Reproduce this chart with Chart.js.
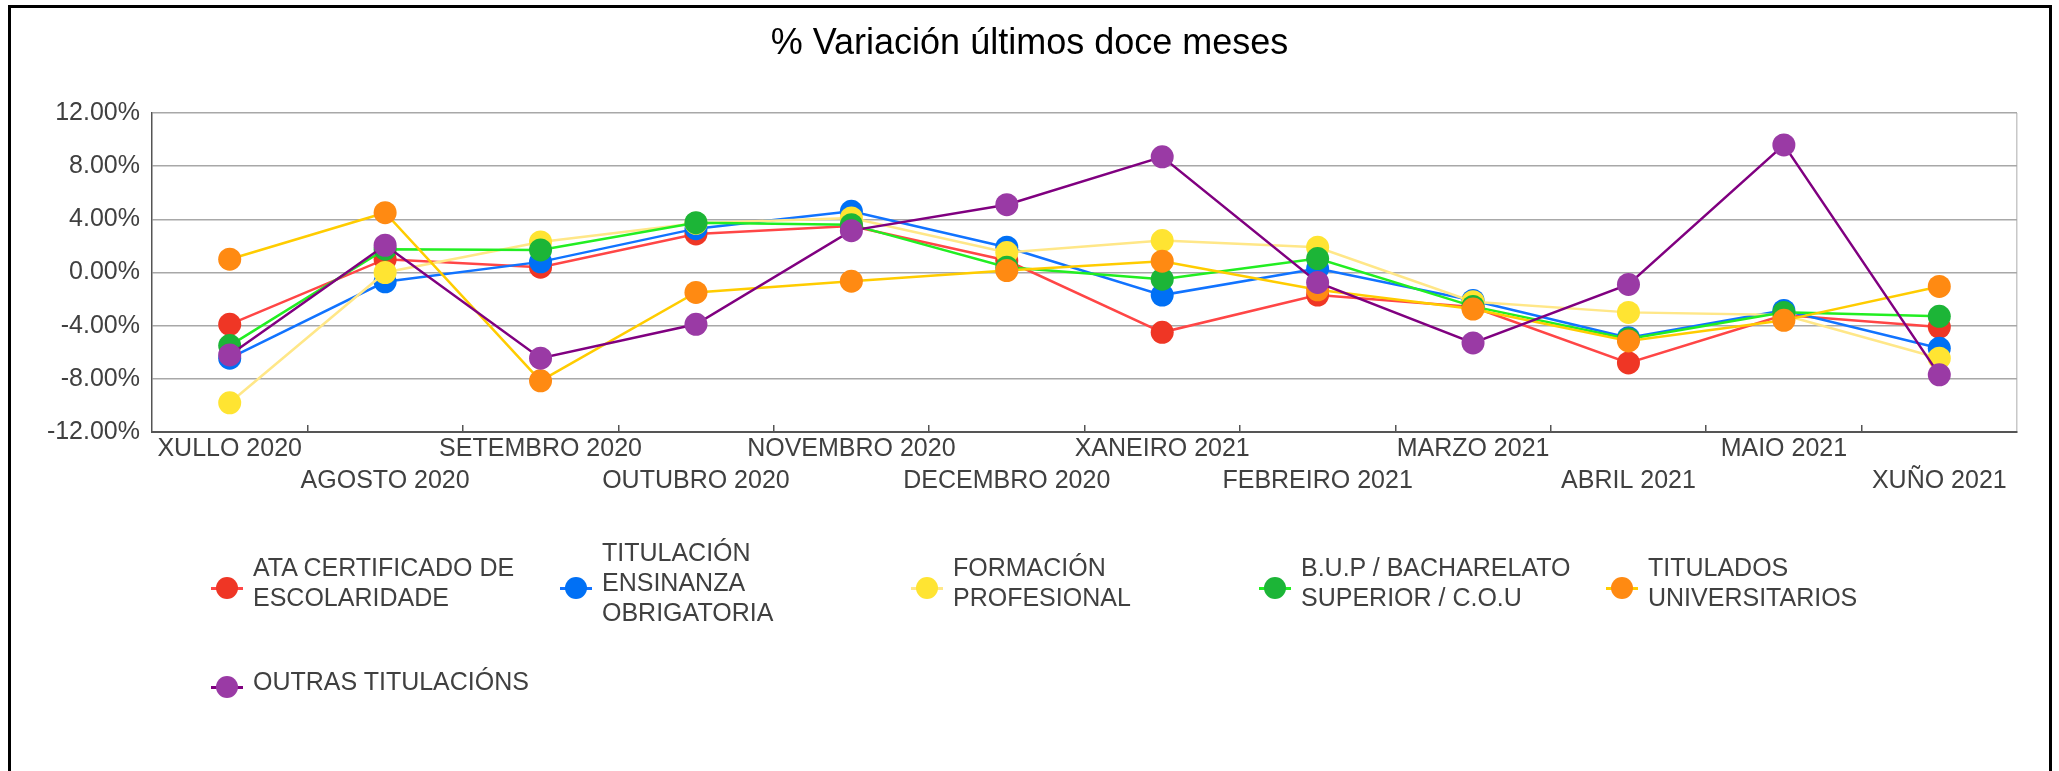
<!DOCTYPE html>
<html lang="gl">
<head>
  <meta charset="UTF-8">
  <title>% Variación últimos doce meses</title>
  <script src="https://cdn.jsdelivr.net/npm/chart.js"></script>
  <style>
    body { margin: 0; background: #fff; }
    #wrap { position: relative; width: 2059px; height: 771px; overflow: hidden; }
    #chart { position: absolute; left: 0; top: 0; }
    #frame { position: absolute; left: 8px; top: 5px; width: 2038px; height: 820px; border: 3px solid #000; pointer-events: none; }
    .item { position: absolute; display: flex; align-items: center; height: 120px;
            font-family: "Liberation Sans", Arial, sans-serif; font-size: 25px; line-height: 30px; color: #404040; }
    .mark { position: relative; width: 32px; height: 24px; top: 6px; flex: none; }
    .mark .ln { position: absolute; left: 0; right: 0; top: 11px; height: 3px; }
    .mark .dot { position: absolute; left: 5px; top: 1px; width: 22px; height: 22px; border-radius: 50%; }
    .txt { margin-left: 10px; max-width: 285px; }
  </style>
</head>
<body>
  <div id="wrap">
    <canvas id="chart" width="2059" height="771"></canvas>
    <div id="legend"></div>
    <div id="frame"></div>
  </div>

  <script>
    // months (x axis)
    const months = ['XULLO 2020', 'AGOSTO 2020', 'SETEMBRO 2020', 'OUTUBRO 2020', 'NOVEMBRO 2020', 'DECEMBRO 2020',
                    'XANEIRO 2021', 'FEBREIRO 2021', 'MARZO 2021', 'ABRIL 2021', 'MAIO 2021', 'XUÑO 2021'];

    // % variation per education level
    const ataCertificado   = [-3.9, 1.0, 0.4, 2.9, 3.5, 0.9, -4.5, -1.7, -2.6, -6.8, -3.2, -4.1];
    const ensinanzaObrig   = [-6.45, -0.7, 0.8, 3.3, 4.6, 1.9, -1.7, 0.3, -2.1, -4.9, -2.85, -5.7];
    const formacionProf    = [-9.8, 0.0, 2.3, 3.7, 4.1, 1.5, 2.4, 1.9, -2.2, -3.0, -3.2, -6.45];
    const bacharelato      = [-5.5, 1.75, 1.7, 3.75, 3.6, 0.4, -0.5, 1.05, -2.55, -5.0, -3.0, -3.3];
    const universitarios   = [1.0, 4.5, -8.15, -1.5, -0.65, 0.15, 0.85, -1.3, -2.75, -5.15, -3.6, -1.05];
    const outrasTitulacions = [-6.2, 2.05, -6.45, -3.9, 3.15, 5.1, 8.7, -0.75, -5.3, -0.9, 9.6, -7.7];

    const seriesNames = ['ATA CERTIFICADO DE ESCOLARIDADE', 'TITULACIÓN ENSINANZA OBRIGATORIA', 'FORMACIÓN PROFESIONAL',
                         'B.U.P / BACHARELATO SUPERIOR / C.O.U', 'TITULADOS UNIVERSITARIOS', 'OUTRAS TITULACIÓNS'];
    const seriesData = [ataCertificado, ensinanzaObrig, formacionProf, bacharelato, universitarios, outrasTitulacions];

    const lineColors  = ['#ff4646', '#1173ff', '#ffe788', '#22ee22', '#ffcc00', '#800080'];
    const pointColors = ['#ef3625', '#0070f5', '#ffe432', '#1cb537', '#ff8a12', '#9a3aa5'];

    const yTicks = [-12, -8, -4, 0, 4, 8, 12];

    const font = '"Liberation Sans", Arial, sans-serif';

    const datasets = seriesData.map((d, i) => ({
      label: seriesNames[i],
      data: d,
      borderColor: lineColors[i],
      backgroundColor: pointColors[i],
      borderWidth: 2.5,
      pointRadius: 11.5,
      pointHoverRadius: 11.5,
      pointBackgroundColor: pointColors[i],
      pointBorderWidth: 0,
      tension: 0,
      order: seriesData.length - i   // last series drawn on top
    }));

    const chart = new Chart(document.getElementById('chart'), {
      type: 'line',
      data: { labels: months, datasets: datasets },
      options: {
        responsive: false,
        animation: false,
        layout: { padding: 0 },
        plugins: {
          legend: { display: false },
          tooltip: { enabled: false },
          title: {
            display: true,
            text: '% Variación últimos doce meses',
            color: '#000',
            font: { family: font, size: 36, weight: 'normal', lineHeight: 1.2 },
            padding: { top: 22, bottom: 47.8 }
          }
        },
        scales: {
          x: {
            type: 'category',
            offset: true,
            grid: {
              offset: true,
              drawOnChartArea: true,
              color: ctx => ctx.type === 'tick' ? 'rgba(0,0,0,0)' : '#c8c8c8',
              lineWidth: 1.5,
              tickLength: -7,
              tickWidth: 1.5,
              tickColor: ctx => (ctx.type === 'tick' && ctx.index > 0) ? '#555' : 'rgba(0,0,0,0)'
            },
            border: { display: true, color: '#555', width: 2 },
            ticks: {
              autoSkip: false,
              maxRotation: 0,
              minRotation: 0,
              padding: 8,
              color: '#404040',
              font: { family: font, size: 25, lineHeight: 32 / 25 },
              callback: function (v, i) {
                const lab = this.getLabelForValue(v);
                return i % 2 ? ['', lab] : lab;
              }
            },
            afterFit: s => { s.height = 339; }
          },
          y: {
            min: -12,
            max: 12,
            afterBuildTicks: s => { s.ticks = yTicks.map(v => ({ value: v })); },
            grid: { color: '#a8a8a8', lineWidth: 1.5, drawTicks: false },
            border: { display: true, color: '#555', width: 1.5 },
            ticks: {
              padding: 12,
              color: '#404040',
              font: { family: font, size: 25 },
              callback: v => v.toFixed(2) + '%'
            },
            afterFit: s => { s.width = 152; }
          },
          // empty right-hand margin so the title stays centred on the page
          spacer: {
            type: 'linear',
            position: 'right',
            grid: { display: false },
            border: { display: false },
            ticks: { display: false },
            afterFit: s => { s.width = 42; }
          }
        }
      }
    });

    // html legend with wrapped names, built from the chart's datasets
    const legendSpots = [[227, 582], [576, 582], [927, 582], [1275, 582], [1622, 582], [227, 681]];
    const legendBox = document.getElementById('legend');
    chart.data.datasets.forEach((ds, i) => {
      const [mx, cy] = legendSpots[i];
      const item = document.createElement('div');
      item.className = 'item';
      item.style.left = (mx - 16) + 'px';
      item.style.top = (cy - 60) + 'px';
      item.innerHTML = '<span class="mark"><span class="ln" style="background:' + ds.borderColor + '"></span>' +
                       '<span class="dot" style="background:' + ds.pointBackgroundColor + '"></span></span>' +
                       '<span class="txt">' + ds.label + '</span>';
      legendBox.appendChild(item);
    });
  </script>
</body>
</html>
